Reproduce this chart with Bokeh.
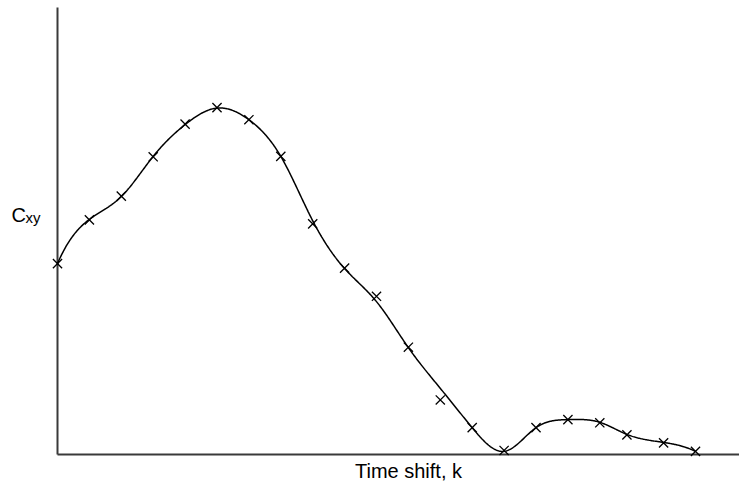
import numpy as np
from bokeh.plotting import figure
from bokeh.models import Range1d, Label, ColumnDataSource
from bokeh.embed import file_html
from bokeh.resources import INLINE

# Time shift k of each sample
shift_k = [0, 1, 2, 3, 4, 5, 6, 7, 8, 9, 10, 11, 12, 13, 14, 15, 16, 17, 17.85, 19, 20]
# Measured cross-correlation samples C_xy (crosses)
c_xy = [0.427, 0.525, 0.578, 0.666, 0.739, 0.776, 0.749, 0.667, 0.516, 0.417, 0.354,
        0.240, 0.122, 0.060, 0.009, 0.060, 0.078, 0.071, 0.044, 0.026, 0.007]
# Smooth trend curve of C_xy at the same shifts
c_xy_trend = [0.427, 0.526, 0.577, 0.667, 0.738, 0.775, 0.749, 0.667, 0.523, 0.416, 0.342,
              0.239, 0.148, 0.060, 0.007, 0.060, 0.078, 0.072, 0.045, 0.027, 0.007]

x_label = "Time shift, k"
y_label_main = "C"
y_label_sub = "xy"


def cubic_spline(x, y, num=800):
    """Not-a-knot cubic spline through (x, y), evaluated on a dense grid."""
    x = np.asarray(x, float)
    y = np.asarray(y, float)
    n = len(x)
    h = np.diff(x)
    A = np.zeros((n, n))
    b = np.zeros(n)
    A[0, 0], A[0, 1], A[0, 2] = -h[1], h[0] + h[1], -h[0]
    A[-1, -3], A[-1, -2], A[-1, -1] = -h[-1], h[-2] + h[-1], -h[-2]
    for i in range(1, n - 1):
        A[i, i - 1] = h[i - 1]
        A[i, i] = 2 * (h[i - 1] + h[i])
        A[i, i + 1] = h[i]
        b[i] = 6 * ((y[i + 1] - y[i]) / h[i] - (y[i] - y[i - 1]) / h[i - 1])
    M = np.linalg.solve(A, b)
    t = np.linspace(x[0], x[-1], num)
    i = np.clip(np.searchsorted(x, t, side="right") - 1, 0, n - 2)
    hi = h[i]
    a, c = x[i + 1] - t, t - x[i]
    s = (M[i] * a ** 3 + M[i + 1] * c ** 3) / (6 * hi) \
        + (y[i] / hi - M[i] * hi / 6) * a + (y[i + 1] / hi - M[i + 1] * hi / 6) * c
    return t, s


curve_x, curve_y = cubic_spline(shift_k, c_xy_trend)

# Canvas geometry: the plotting frame fills the whole canvas and the
# axis lines are drawn inside it at k = 0 and C = 0.
W, H = 739, 484
ORIGIN_X, ORIGIN_Y, TOP_Y = 57, 454, 7      # pixel positions of the axes
PX_PER_K = 31.9
PX_PER_C = ORIGIN_Y - TOP_Y                  # C = 1 at the top of the y axis

x_start = -ORIGIN_X / PX_PER_K
x_end = (W - ORIGIN_X) / PX_PER_K
y_start = -(H - ORIGIN_Y) / PX_PER_C
y_end = ORIGIN_Y / PX_PER_C

p = figure(width=W, height=H, output_backend="svg", toolbar_location=None,
           x_range=Range1d(x_start, x_end), y_range=Range1d(y_start, y_end),
           x_axis_type=None, y_axis_type=None,
           min_border=0, min_border_left=0, min_border_right=0,
           min_border_top=0, min_border_bottom=0)
p.outline_line_color = None
p.grid.visible = False
p.background_fill_color = "white"
p.border_fill_color = "white"

# axis lines
p.segment(x0=[0, 0], y0=[0, 0], x1=[0, x_end], y1=[1.0, 0],
          line_color="#3a3a3a", line_width=2)

p.line(curve_x, curve_y, line_color="black", line_width=1.5)
src = ColumnDataSource(dict(k=shift_k, c=c_xy))
p.scatter("k", "c", source=src, marker="x", size=13, line_color="black", line_width=1.3)

# axis titles (screen offsets measured from the lower-left corner)
font = "Liberation Sans"
p.add_layout(Label(x=408, y=14, x_units="screen", y_units="screen",
                   text=x_label, text_font=font, text_font_size="20px", text_align="center",
                   text_baseline="alphabetic", text_color="black"))
p.add_layout(Label(x=11, y=270, x_units="screen", y_units="screen",
                   text=y_label_main, text_font=font, text_font_size="20px", text_align="left",
                   text_baseline="alphabetic", text_color="black"))
p.add_layout(Label(x=25, y=267, x_units="screen", y_units="screen",
                   text=y_label_sub, text_font=font, text_font_size="15px", text_align="left",
                   text_baseline="alphabetic", text_color="black"))

open("out.html", "w").write(file_html(p, INLINE))
